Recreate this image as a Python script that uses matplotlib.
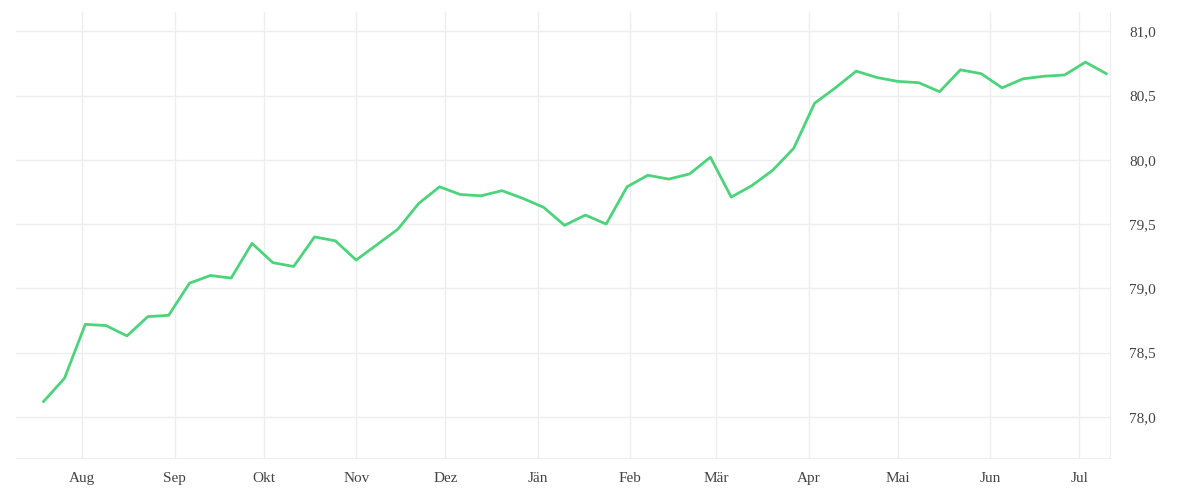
import matplotlib
matplotlib.use("Agg")
import matplotlib.pyplot as plt
import pandas as pd

start = "2023-07-19"
values = [78.12, 78.30, 78.72, 78.71, 78.63, 78.78, 78.79, 79.04, 79.10, 79.08,
          79.35, 79.20, 79.17, 79.40, 79.37, 79.22, 79.34, 79.46, 79.66, 79.79,
          79.73, 79.72, 79.76, 79.70, 79.63, 79.49, 79.57, 79.50, 79.79, 79.88,
          79.85, 79.89, 80.02, 79.71, 79.80, 79.92, 80.09, 80.44, 80.56, 80.69,
          80.64, 80.61, 80.60, 80.53, 80.70, 80.67, 80.56, 80.63, 80.65, 80.66,
          80.76, 80.67]
dates = pd.date_range(start, periods=len(values), freq="7D")
month_labels = ["Aug", "Sep", "Okt", "Nov", "Dez", "Jän", "Feb", "Mär", "Apr", "Mai", "Jun", "Jul"]
month_ticks = pd.date_range("2023-08-01", periods=12, freq="MS")
y_ticks = [78.0, 78.5, 79.0, 79.5, 80.0, 80.5, 81.0]

plt.rcParams['font.family'] = ['Liberation Serif', 'DejaVu Serif']
fig = plt.figure(figsize=(12, 5), dpi=100)
ax = fig.add_axes([0.013, 0.084, 0.912, 0.892])
ax.plot(dates, values, color="#4cd37b", lw=2.0)
ax.set_ylim(77.68, 81.15)
ax.set_xlim(pd.Timestamp("2023-07-09 14:00"), pd.Timestamp("2024-07-11 06:00"))
ax.set_yticks(y_ticks)
ax.set_yticklabels([f"{v:.1f}".replace(".", ",") for v in y_ticks])
ax.set_xticks(month_ticks)
ax.set_xticklabels(month_labels)
ax.yaxis.tick_right()
ax.grid(True, color="#ededed", lw=1)
for s in ["top", "left"]:
    ax.spines[s].set_visible(False)
for s in ["right", "bottom"]:
    ax.spines[s].set_color("#ededed")
ax.tick_params(length=0, labelsize=11, colors="#444444", pad=10)
ax.tick_params(axis="y", pad=14)
fig.savefig("out.png")
